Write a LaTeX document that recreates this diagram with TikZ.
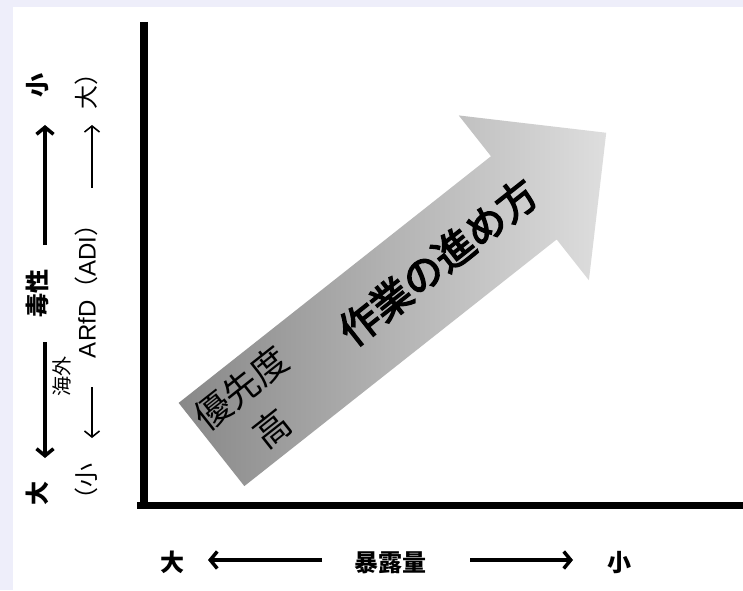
\documentclass[tikz,border=0pt]{standalone}
\usepackage{fontspec}
\setmainfont{Liberation Sans}
\newfontfamily\jp{Noto Sans CJK JP}
\newfontfamily\jpsemi{Noto Sans CJK JP}[FakeBold=3.5]
\usetikzlibrary{arrows.meta}
\definecolor{bglav}{RGB}{238,238,250}
\definecolor{arrdark}{RGB}{136,136,136}
\definecolor{arrlight}{RGB}{222,222,222}
\tikzset{
  lab/.style={inner sep=0pt, outer sep=0pt, text height=0.86em, text depth=0.12em},
  boldlab/.style={lab, font=\jp\bfseries\fontsize{24}{24}\selectfont},
  collab/.style={lab, font=\fontsize{24}{24}\selectfont},
  heavyarr/.style={line width=3.5pt, -{Straight Barb[length=7pt,width=17pt]}},
  lightarr/.style={line width=1.6pt, -{Straight Barb[length=6pt,width=15pt]}},
}
\begin{document}
\begin{tikzpicture}[x=1pt,y=1pt]
\useasboundingbox (0,0) rectangle (743,590);
\fill[bglav] (0,0) rectangle (743,590);
\fill[white] (13,0) rectangle (743,583);

% big gradient arrow
\begin{scope}[shift={(211.5,145.5)}, rotate=38.3]
  \shade[left color=arrdark, right color=arrlight]
    (0,-53) -- (398,-53) -- (398,-105) -- (503,0) -- (398,105) -- (398,53) -- (0,53) -- cycle;
  \node[rotate=38.3, font=\jp\fontsize{36}{51}\selectfont, align=center, inner sep=0pt] (prio) at (58,0.5) {優先度\\高};
  \node[rotate=38.3, font=\jpsemi\fontsize{40}{40}\selectfont, inner sep=0pt] (work) at (291,3) {作業の進め方};
\end{scope}

% axes
\draw[line width=8pt] (143.5,568) -- (143.5,81);
\draw[line width=7pt] (137,84.5) -- (743,84.5);

% left column 1: toxicity
\node[boldlab, rotate=90] (tox) at (42.5,296.5) {毒性};
\node[boldlab, rotate=90] (toxlo) at (42.5,504) {小};
\node[boldlab, rotate=90] (toxhi) at (42.5,97) {大};
\draw[heavyarr, shorten <=24.5pt, shorten >=27pt] ([xshift=2.5pt]tox.east) -- ([xshift=2.5pt]toxlo.west);
\draw[heavyarr, shorten <=24.5pt, shorten >=23pt] ([xshift=2.5pt]tox.west) -- ([xshift=2.5pt]toxhi.east);

% overseas
\node[lab, rotate=90, font=\jp\fontsize{20}{20}\selectfont] (kaigai) at (66,214) {海外};

% left column 2: ARfD (ADI)
\node[collab, rotate=90, anchor=west] (adi) at (92,232) {ARfD{\jp（}ADI{\jp）}};
\node[collab, rotate=90, anchor=west] (adihi) at (92,480) {{\jp 大）}};
\node[collab, rotate=90, anchor=east] (adilo) at (92,127) {{\jp （小}};
\draw[lightarr, shorten <=25pt, shorten >=15pt] (adi.east) -- (adihi.west);
\draw[lightarr, shorten <=29pt, shorten >=25pt] (adi.west) -- (adilo.east);

% bottom row: exposure
\node[boldlab] (exhi) at (172,22) {大};
\node[boldlab] (expo) at (390,22) {暴露量};
\node[boldlab] (exlo) at (619,22) {小};
\draw[heavyarr, shorten <=32pt, shorten >=24pt] ([yshift=8pt]expo.west) -- ([yshift=8pt]exhi.east);
\draw[heavyarr, shorten <=44pt, shorten >=34pt] ([yshift=8pt]expo.east) -- ([yshift=8pt]exlo.west);
\end{tikzpicture}
\end{document}
